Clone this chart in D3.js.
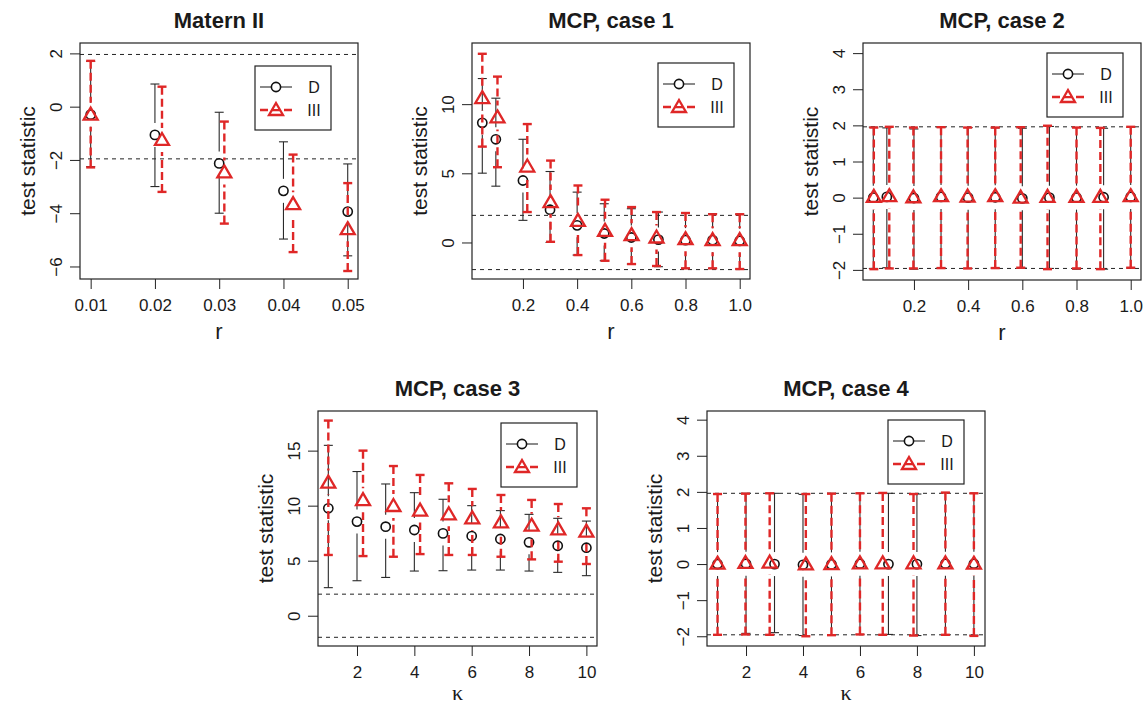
<!DOCTYPE html>
<html>
<head>
<meta charset="utf-8">
<script src="https://cdn.jsdelivr.net/npm/d3@7"></script>
<style>
body { margin: 0; background: #fff; }
svg text { font-family: "Liberation Sans", Arial, Helvetica, sans-serif; fill: #1a1a1a; }
</style>
</head>
<body>
<div id="figure"></div>
<script>
// ---------------- data ----------------
// Matern II
var matR        = [0.01, 0.02, 0.03, 0.04, 0.05];
var matR_III    = [0.01, 0.0211, 0.0308, 0.0415, 0.05];
var matD_mean   = [-0.30, -1.06, -2.13, -3.16, -3.94];
var matD_lo     = [-2.25, -3.00, -4.00, -4.97, -5.60];
var matD_hi     = [1.70, 0.85, -0.21, -1.32, -2.15];
var matIII_mean = [-0.30, -1.25, -2.47, -3.66, -4.60];
var matIII_lo   = [-2.28, -3.20, -4.39, -5.46, -6.17];
var matIII_hi   = [1.72, 0.75, -0.56, -1.80, -2.87];

// MCP, case 1
var c1R        = [0.05, 0.1, 0.2, 0.3, 0.4, 0.5, 0.6, 0.7, 0.8, 0.9, 1.0];
var c1R_III    = [0.05, 0.106, 0.216, 0.302, 0.403, 0.503, 0.601, 0.693, 0.8, 0.9, 1.0];
var c1D_mean   = [8.65, 7.46, 4.48, 2.37, 1.24, 0.65, 0.36, 0.21, 0.17, 0.17, 0.12];
var c1D_lo     = [5.01, 4.07, 1.60, 0.00, -0.91, -1.32, -1.56, -1.75, -1.87, -1.87, -1.92];
var c1D_hi     = [11.85, 10.43, 7.46, 5.13, 3.64, 2.80, 2.44, 2.20, 2.10, 2.08, 2.04];
var c1III_mean = [10.43, 9.04, 5.49, 2.92, 1.56, 0.84, 0.53, 0.36, 0.24, 0.17, 0.17];
var c1III_lo   = [6.93, 5.44, 2.20, 0.05, -0.91, -1.32, -1.56, -1.70, -1.87, -1.87, -1.92];
var c1III_hi   = [13.64, 11.99, 8.56, 5.92, 4.12, 3.09, 2.56, 2.20, 2.13, 2.04, 2.04];

// MCP, case 2
var c2R        = [0.05, 0.1, 0.2, 0.3, 0.4, 0.5, 0.6, 0.7, 0.8, 0.9, 1.0];
var c2R_III    = [0.052, 0.109, 0.198, 0.3, 0.398, 0.5, 0.594, 0.693, 0.8, 0.888, 1.0];
var c2D_mean   = [0.00, 0.02, -0.01, 0.02, 0.00, 0.01, -0.02, 0.00, 0.00, 0.01, 0.02];
var c2D_lo     = [-1.96, -1.94, -1.98, -1.95, -1.96, -1.95, -1.95, -1.96, -1.98, -1.98, -1.95];
var c2D_hi     = [1.95, 1.93, 1.90, 1.95, 1.94, 1.93, 1.92, 1.97, 1.94, 1.92, 1.95];
var c2III_mean = [0.02, 0.04, 0.01, 0.04, 0.03, 0.04, 0.00, 0.02, 0.02, 0.02, 0.04];
var c2III_lo   = [-1.98, -1.96, -1.96, -1.95, -1.96, -1.95, -1.94, -1.98, -1.96, -1.98, -1.94];
var c2III_hi   = [1.94, 1.96, 1.94, 1.95, 1.94, 1.94, 1.95, 1.99, 1.94, 1.93, 1.96];

// MCP, case 3
var c3K        = [1, 2, 3, 4, 5, 6, 7, 8, 9, 10];
var c3K_III    = [1, 2.21, 3.27, 4.2, 5.2, 6.02, 7.02, 8.09, 9.02, 10];
var c3D_mean   = [9.76, 8.55, 8.09, 7.79, 7.48, 7.24, 6.97, 6.67, 6.36, 6.18];
var c3D_lo     = [2.55, 3.18, 3.48, 4.06, 4.09, 4.15, 4.15, 4.06, 3.94, 3.64];
var c3D_hi     = [15.48, 13.10, 11.97, 11.18, 10.58, 10.00, 9.55, 9.21, 8.85, 8.60];
var c3III_mean = [12.10, 10.50, 9.97, 9.55, 9.21, 8.85, 8.48, 8.18, 7.85, 7.64];
var c3III_lo   = [5.52, 5.42, 5.36, 5.60, 5.52, 5.52, 5.36, 5.12, 4.91, 4.70];
var c3III_hi   = [17.73, 15.00, 13.60, 12.79, 12.03, 11.52, 10.97, 10.52, 10.15, 9.76];

// MCP, case 4
var c4K        = [1, 2, 3, 4, 5, 6, 7, 8, 9, 10];
var c4K_III    = [1, 1.98, 2.83, 4.1, 5, 6, 6.8, 7.88, 9, 10];
var c4D_mean   = [0.00, 0.01, 0.00, -0.02, -0.01, 0.01, 0.00, 0.00, 0.01, 0.01];
var c4D_lo     = [-1.96, -1.92, -1.90, -1.98, -1.97, -1.95, -1.95, -1.98, -1.96, -1.97];
var c4D_hi     = [1.94, 1.96, 1.96, 1.93, 1.96, 1.96, 1.96, 1.94, 1.98, 1.96];
var c4III_mean = [0.01, 0.03, 0.04, -0.01, 0.00, 0.02, 0.02, 0.02, 0.02, 0.01];
var c4III_lo   = [-1.96, -1.95, -1.96, -2.00, -1.97, -1.95, -1.96, -1.98, -1.96, -1.99];
var c4III_hi   = [1.94, 1.95, 1.96, 1.94, 1.95, 1.96, 1.97, 1.94, 1.98, 1.96];

// tick values
var ticksMatX  = [0.01, 0.02, 0.03, 0.04, 0.05];
var ticksMatY  = [-6, -4, -2, 0, 2];
var ticksRX    = [0.2, 0.4, 0.6, 0.8, 1.0];
var ticksC1Y   = [0, 5, 10];
var ticksC2Y   = [-2, -1, 0, 1, 2, 3, 4];
var ticksKX    = [2, 4, 6, 8, 10];
var ticksC3Y   = [0, 5, 10, 15];
var critical   = [-1.96, 1.96];
var seriesNames = ["D", "III"];

// ---------------- drawing ----------------
var RED = "#df2727";
var GAP = 12;     // gap left round each point (gplots plotCI style)
var CAP = 4.5;
var RED_DASH = "8,4";

var ErrorBarPanel = function(svg, options){
	this.opt = options;
	this.svg_out = svg;
	this.setupScales();
	this.setupGroup();
	this.drawRefLines();
	this.drawSeries(options.dx, options.d_mean, options.d_lo, options.d_hi, "D");
	this.drawSeries(options.ix, options.i_mean, options.i_lo, options.i_hi, "III");
	this.drawBox();
	this.drawAxes();
	this.drawLegend();
};

ErrorBarPanel.prototype.setupScales = function(){
	var b = this.opt.box;
	this.left = b[0]; this.top = b[1]; this.width = b[2]; this.height = b[3];
	this.x = d3.scaleLinear().domain(this.opt.xDomain).range([0, this.width]);
	this.y = d3.scaleLinear().domain(this.opt.yDomain).range([this.height, 0]);
};

ErrorBarPanel.prototype.setupGroup = function(){
	this.g = this.svg_out.append("g")
		.attr("transform", "translate(" + this.left + "," + this.top + ")");
	var clipId = "clip_" + this.opt.id;
	this.g.append("clipPath").attr("id", clipId)
		.append("rect").attr("width", this.width).attr("height", this.height);
	this.plot = this.g.append("g").attr("clip-path", "url(#" + clipId + ")");
};

ErrorBarPanel.prototype.drawRefLines = function(){
	var self = this;
	this.plot.selectAll("line.crit").data(critical).enter().append("line")
		.attr("class", "crit")
		.attr("x1", 0).attr("x2", this.width)
		.attr("y1", function(d){ return self.y(d); })
		.attr("y2", function(d){ return self.y(d); })
		.attr("stroke", "#222").attr("stroke-width", 1)
		.attr("stroke-dasharray", "4,4");
};

ErrorBarPanel.prototype.drawSymbol = function(g, name, px, py){
	if(name == "D"){
		g.append("circle").attr("cx", px).attr("cy", py).attr("r", 4.6)
			.attr("fill", "none").attr("stroke", "#111").attr("stroke-width", 1.6);
	}else{
		g.append("path")
			.attr("d", "M0,-7 L7,5 L-7,5 Z")
			.attr("transform", "translate(" + px + "," + py + ")")
			.attr("fill", "none").attr("stroke", RED).attr("stroke-width", 2.3)
			.attr("stroke-linejoin", "miter");
	}
};

ErrorBarPanel.prototype.drawSeries = function(xs, mean, lo, hi, name){
	var self = this;
	var isD = name == "D";
	var col = isD ? "#2a2a2a" : RED;
	var lw  = isD ? 1.1 : 2.4;
	var g = this.plot.append("g").attr("class", "series_" + name);
	xs.forEach(function(xv, i){
		var px = self.x(xv), pm = self.y(mean[i]), plo = self.y(lo[i]), phi = self.y(hi[i]);
		var segs = [];
		if(pm - GAP > phi) segs.push([phi, pm - GAP]);
		if(pm + GAP < plo) segs.push([plo, pm + GAP]);
		segs.forEach(function(s){
			g.append("line").attr("x1", px).attr("x2", px)
				.attr("y1", s[0]).attr("y2", s[1])
				.attr("stroke", col).attr("stroke-width", lw)
				.attr("stroke-dasharray", isD ? null : RED_DASH);
		});
		[phi, plo].forEach(function(cy){
			g.append("line").attr("x1", px - CAP).attr("x2", px + CAP)
				.attr("y1", cy).attr("y2", cy)
				.attr("stroke", col).attr("stroke-width", lw);
		});
		self.drawSymbol(g, name, px, pm);
	});
};

ErrorBarPanel.prototype.drawBox = function(){
	this.g.append("rect")
		.attr("width", this.width).attr("height", this.height)
		.attr("fill", "none").attr("stroke", "#222").attr("stroke-width", 1.2);
};

ErrorBarPanel.prototype.drawAxes = function(){
	var self = this;
	var xAxis = d3.axisBottom(this.x).tickValues(this.opt.xTicks)
		.tickFormat(d3.format(this.opt.xFmt)).tickSize(10).tickSizeOuter(0);
	var yAxis = d3.axisLeft(this.y).tickValues(this.opt.yTicks)
		.tickFormat(d3.format("d")).tickSize(10).tickSizeOuter(0);

	var gx = this.g.append("g").attr("transform", "translate(0," + this.height + ")").call(xAxis);
	gx.select(".domain").remove();
	gx.selectAll("line").attr("stroke", "#222");
	gx.selectAll("text").attr("y", 32).attr("dy", 0)
		.style("font-size", "17px").style("font-family", null);

	var gy = this.g.append("g").call(yAxis);
	gy.select(".domain").remove();
	gy.selectAll("line").attr("stroke", "#222");
	gy.selectAll("text")
		.attr("x", 0).attr("y", 0).attr("dy", 0)
		.attr("text-anchor", "middle")
		.attr("transform", "translate(-18,0) rotate(-90)")
		.style("font-size", "17px").style("font-family", null);
	gx.attr("font-family", null).attr("font-size", null);
	gy.attr("font-family", null).attr("font-size", null);

	// titles
	this.g.append("text").attr("x", this.width / 2).attr("y", -15)
		.attr("text-anchor", "middle").style("font-size", "22px").style("font-weight", "bold")
		.text(this.opt.title);
	this.g.append("text")
		.attr("transform", "translate(-45," + (this.height / 2) + ") rotate(-90)")
		.attr("text-anchor", "middle").style("font-size", "21px")
		.text("test statistic");
	var isKappa = this.opt.xLabel == "\u03ba";
	var xl = this.g.append("text").attr("x", this.width / 2)
		.attr("y", this.height + (isKappa ? 54 : 60))
		.attr("text-anchor", "middle").style("font-size", "22px")
		.text(this.opt.xLabel);
	if(isKappa) xl.style("font-family", "'Liberation Serif', 'DejaVu Serif', serif");
};

ErrorBarPanel.prototype.drawLegend = function(){
	var self = this;
	var lg = this.g.append("g")
		.attr("transform", "translate(" + this.opt.legend[0] + "," + this.opt.legend[1] + ")");
	lg.append("rect").attr("width", 76).attr("height", 64)
		.attr("fill", "#fff").attr("stroke", "#222").attr("stroke-width", 1.2);
	seriesNames.forEach(function(name, i){
		var yy = 21 + i * 23;
		var isD = name == "D";
		lg.append("line").attr("x1", 5).attr("x2", 37).attr("y1", yy).attr("y2", yy)
			.attr("stroke", isD ? "#2a2a2a" : RED).attr("stroke-width", isD ? 1.1 : 2.4)
			.attr("stroke-dasharray", isD ? null : RED_DASH);
		if(!isD){
			lg.append("rect").attr("x", 14).attr("y", yy - 8).attr("width", 14).attr("height", 7).attr("fill", "#fff");
		}else{
			lg.append("circle").attr("cx", 21).attr("cy", yy).attr("r", 4.6).attr("fill", "#fff");
		}
		self.drawSymbol(lg, name, 21, yy);
		lg.append("text").attr("x", 59).attr("y", yy + 6).attr("text-anchor", "middle")
			.style("font-size", "16px").text(name);
	});
};

// ---------------- layout ----------------
var svg = d3.select("#figure").append("svg")
	.attr("width", 1146).attr("height", 709)
	.style("background", "#fff");

new ErrorBarPanel(svg, {
	id: "p1", title: "Matern II", box: [80, 43, 278, 236],
	xDomain: [0.00834, 0.0516], yDomain: [-6.47, 2.39],
	xTicks: ticksMatX, xFmt: ".2f", yTicks: ticksMatY, xLabel: "r", legend: [175, 23],
	dx: matR, d_mean: matD_mean, d_lo: matD_lo, d_hi: matD_hi,
	ix: matR_III, i_mean: matIII_mean, i_lo: matIII_lo, i_hi: matIII_hi
});
new ErrorBarPanel(svg, {
	id: "p2", title: "MCP, case 1", box: [472, 43, 278, 236],
	xDomain: [0.012, 1.038], yDomain: [-2.64, 14.42],
	xTicks: ticksRX, xFmt: ".1f", yTicks: ticksC1Y, xLabel: "r", legend: [186, 20],
	dx: c1R, d_mean: c1D_mean, d_lo: c1D_lo, d_hi: c1D_hi,
	ix: c1R_III, i_mean: c1III_mean, i_lo: c1III_lo, i_hi: c1III_hi
});
new ErrorBarPanel(svg, {
	id: "p3", title: "MCP, case 2", box: [863, 43, 278, 237],
	xDomain: [0.012, 1.038], yDomain: [-2.28, 4.28],
	xTicks: ticksRX, xFmt: ".1f", yTicks: ticksC2Y, xLabel: "r", legend: [184, 10],
	dx: c2R, d_mean: c2D_mean, d_lo: c2D_lo, d_hi: c2D_hi,
	ix: c2R_III, i_mean: c2III_mean, i_lo: c2III_lo, i_hi: c2III_hi
});
new ErrorBarPanel(svg, {
	id: "p4", title: "MCP, case 3", box: [318, 411, 279, 235],
	xDomain: [0.64, 10.37], yDomain: [-2.75, 18.6],
	xTicks: ticksKX, xFmt: "d", yTicks: ticksC3Y, xLabel: "\u03ba", legend: [183, 12],
	dx: c3K, d_mean: c3D_mean, d_lo: c3D_lo, d_hi: c3D_hi,
	ix: c3K_III, i_mean: c3III_mean, i_lo: c3III_lo, i_hi: c3III_hi
});
new ErrorBarPanel(svg, {
	id: "p5", title: "MCP, case 4", box: [707, 411, 278, 235],
	xDomain: [0.63, 10.39], yDomain: [-2.27, 4.24],
	xTicks: ticksKX, xFmt: "d", yTicks: ticksC2Y, xLabel: "\u03ba", legend: [181, 9],
	dx: c4K, d_mean: c4D_mean, d_lo: c4D_lo, d_hi: c4D_hi,
	ix: c4K_III, i_mean: c4III_mean, i_lo: c4III_lo, i_hi: c4III_hi
});
</script>
</body>
</html>
